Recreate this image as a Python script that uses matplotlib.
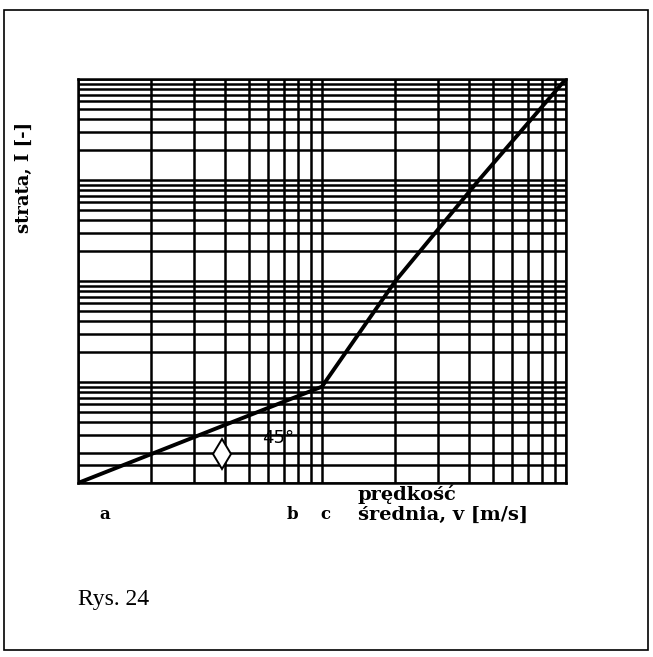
import matplotlib
matplotlib.use("Agg")
import matplotlib.pyplot as plt
from matplotlib.ticker import FixedLocator, NullFormatter
from matplotlib.patches import Rectangle

# loss vs mean velocity, log-log paper
v = [1, 10, 20, 44, 100]          # m/s
strata = [1, 9, 100, 1000, 10000]  # [-]
v_lim = (1, 100)
i_lim = (1, 10000)
point_labels = ["a", "b", "c"]
point_v = [1.29, 7.6, 10.3]

fig = plt.figure(figsize=(6.53, 6.57), dpi=100)
ax = fig.add_axes([0.1194, 0.2648, 0.7473, 0.6150])
ax.set_xscale("log")
ax.set_yscale("log")
ax.set_xlim(*v_lim)
ax.set_ylim(*i_lim)

# log paper: every 1..9 line in each decade drawn the same weight
xminor = [k * 10**e for e in range(2) for k in range(2, 10)]
yminor = [k * 10**e for e in range(4) for k in range(2, 10)] + [1.5]
ax.xaxis.set_minor_locator(FixedLocator(xminor))
ax.yaxis.set_minor_locator(FixedLocator(yminor))
ax.xaxis.set_minor_formatter(NullFormatter())
ax.yaxis.set_minor_formatter(NullFormatter())
ax.grid(True, which="both", color="black", lw=1.8)
ax.tick_params(which="both", length=0, labelbottom=False, labelleft=False)
for s in ax.spines.values():
    s.set_linewidth(1.8)

ax.plot(v, strata, color="black", lw=2.8, solid_capstyle="round",
        solid_joinstyle="miter", zorder=5)

# angle note under the first segment
ax.plot([3.9], [1.95], marker="d", ms=15, mfc="white", mec="black", mew=1.4,
        zorder=6)
ax.text(6.6, 2.8, "45°", fontsize=13, family="DejaVu Sans", ha="center",
        va="center", zorder=6)

serif_b = dict(family="DejaVu Serif", fontweight="bold")
ax.set_ylabel("strata, I [-]", fontsize=13, **serif_b)
ax.yaxis.set_label_coords(-0.092, 0.757)
for lab, x in zip(point_labels, point_v):
    ax.annotate(lab, (x, 1), xytext=(0, -23), textcoords="offset points",
                ha="center", va="center", fontsize=12, **serif_b)
ax.annotate("prędkość\nśrednia, v [m/s]", (14, 1), xytext=(0, -1),
            textcoords="offset points", ha="left", va="top", fontsize=14,
            linespacing=1.15, **serif_b)

fig.text(78 / 653, 1 - 600 / 657, "Rys. 24", fontsize=17,
         family="Liberation Serif", ha="left", va="center")

# page frame
fig.patches.append(Rectangle((0.006, 0.011), 0.986, 0.974, transform=fig.transFigure,
                             fill=False, edgecolor="black", lw=1.2))

fig.savefig("out.png", dpi=100)
